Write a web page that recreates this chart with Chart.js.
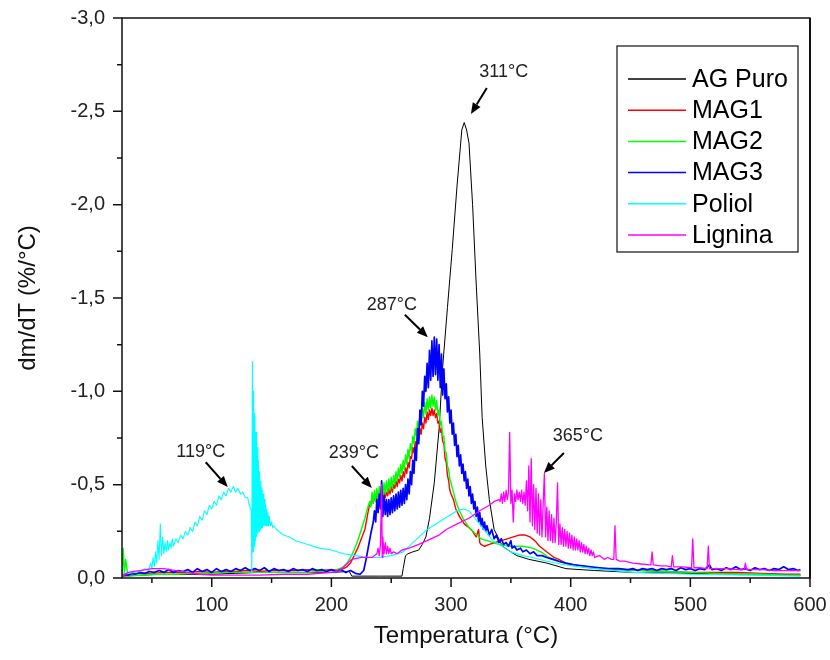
<!DOCTYPE html>
<html><head><meta charset="utf-8">
<script src="https://cdn.jsdelivr.net/npm/chart.js@4.4.0/dist/chart.umd.min.js"></script>
<style>html,body{margin:0;padding:0;background:#fff}#wrap{width:830px;height:660px;position:relative}</style>
</head><body><div id="wrap"><canvas id="c" width="830" height="660"></canvas></div>
<script>
// ---------- DATA (temperature in °C, dm/dT in %/°C) ----------
const seriesLabels = ['AG Puro','MAG1','MAG2','MAG3','Poliol','Lignina'];
const xMajorTicks = [100,200,300,400,500,600];
const xMinorTicks = [50,150,250,350,450,550];
const yMajorTicks = [-3,-2.5,-2,-1.5,-1,-0.5,0];
const yMinorTicks = [-2.75,-2.25,-1.75,-1.25,-0.75,-0.25];

const agPuroTemp = [25,40,60,80,100,120,140,160,180,200,215,217,240,259,260,262,264,268,273,276,279,282,286,290,293,297,301,305,309,311,313,315,318,321,324,326,329,332,336,343,350,355,365,380,396,420,452,500,550,592];
const agPuroDm = [-0.01,-0.015,-0.02,-0.02,-0.02,-0.025,-0.03,-0.03,-0.03,-0.03,-0.035,-0.01,-0.01,-0.01,-0.05,-0.12,-0.13,-0.14,-0.15,-0.18,-0.22,-0.32,-0.51,-0.8,-1.13,-1.45,-1.76,-2.1,-2.4,-2.44,-2.4,-2.33,-2.0,-1.58,-1.2,-0.86,-0.6,-0.42,-0.26,-0.17,-0.14,-0.12,-0.1,-0.08,-0.05,-0.04,-0.03,-0.025,-0.02,-0.015];

const mag1Temp = [25,30,40,50,60,70,80,90,100,110,120,130,140,150,160,170,180,190,200,205,210,213,216,219,222,225,228,230,232,
233,234,235,236,237,238,239,240,241,242,243,244,245,246,247,248,249,250,251,252,253,254,255,256,257,258,259,260,261,262,263,264,265,266,267,268,269,270,271,272,273,274,275,276,277,278,279,280,281,282,283,284,285,286,287,288,289,290,291,292,293,294,295,296,297,298,299,300,
302,304,307,311,315,318,321,323,324,325,328,332,337,342,347,352,357,362,366,370,374,378,382,386,390,396,403,410,424,440,460,480,500,520,540,560,580,592];
const mag1Dm = [-0.01,-0.02,-0.025,-0.025,-0.03,-0.03,-0.03,-0.035,-0.03,-0.035,-0.035,-0.04,-0.035,-0.04,-0.04,-0.04,-0.045,-0.04,-0.045,-0.045,-0.05,-0.06,-0.08,-0.12,-0.16,-0.21,-0.26,-0.33,-0.4,
-0.39,-0.44,-0.40,-0.45,-0.41,-0.45,-0.42,-0.46,-0.42,-0.46,-0.42,-0.46,-0.43,-0.46,-0.44,-0.48,-0.45,-0.49,-0.46,-0.50,-0.48,-0.52,-0.49,-0.53,-0.51,-0.55,-0.52,-0.57,-0.54,-0.59,-0.56,-0.62,-0.59,-0.65,-0.64,-0.70,-0.67,-0.73,-0.70,-0.76,-0.74,-0.80,-0.77,-0.83,-0.80,-0.86,-0.83,-0.89,-0.85,-0.90,-0.87,-0.91,-0.87,-0.90,-0.86,-0.88,-0.83,-0.84,-0.78,-0.80,-0.73,-0.72,-0.64,-0.62,-0.55,-0.52,-0.47,-0.45,
-0.42,-0.37,-0.33,-0.29,-0.27,-0.25,-0.22,-0.26,-0.19,-0.18,-0.17,-0.18,-0.19,-0.2,-0.21,-0.22,-0.23,-0.23,-0.22,-0.2,-0.17,-0.15,-0.13,-0.11,-0.1,-0.08,-0.07,-0.06,-0.05,-0.045,-0.04,-0.035,-0.03,-0.03,-0.03,-0.025,-0.02,-0.02];

const mag2Temp = [25,26,27,28,30,40,50,60,70,80,90,100,110,120,130,140,150,160,170,180,190,200,205,210,213,216,219,222,225,228,230,232,
233,234,235,236,237,238,239,240,241,242,243,244,245,246,247,248,249,250,251,252,253,254,255,256,257,258,259,260,261,262,263,264,265,266,267,268,269,270,271,272,273,274,275,276,277,278,279,280,281,282,283,284,285,286,287,288,289,290,291,292,293,294,295,296,297,298,299,300,
302,304,307,310,315,320,325,330,340,350,360,368,375,382,390,400,412,424,440,460,480,500,520,540,560,580,592];
const mag2Dm = [-0.01,-0.16,-0.02,-0.1,-0.01,-0.015,-0.02,-0.02,-0.02,-0.025,-0.025,-0.025,-0.03,-0.03,-0.03,-0.03,-0.03,-0.03,-0.03,-0.03,-0.035,-0.04,-0.045,-0.06,-0.08,-0.11,-0.15,-0.2,-0.26,-0.32,-0.37,-0.41,
-0.38,-0.46,-0.40,-0.47,-0.41,-0.48,-0.42,-0.49,-0.43,-0.50,-0.44,-0.51,-0.45,-0.52,-0.46,-0.53,-0.47,-0.54,-0.48,-0.55,-0.50,-0.57,-0.52,-0.59,-0.54,-0.61,-0.56,-0.63,-0.58,-0.66,-0.61,-0.69,-0.64,-0.72,-0.68,-0.76,-0.72,-0.80,-0.76,-0.84,-0.80,-0.88,-0.83,-0.91,-0.86,-0.94,-0.88,-0.96,-0.90,-0.97,-0.91,-0.98,-0.92,-0.97,-0.90,-0.95,-0.87,-0.90,-0.82,-0.84,-0.76,-0.76,-0.68,-0.67,-0.60,-0.58,-0.53,-0.51,
-0.46,-0.41,-0.36,-0.32,-0.27,-0.24,-0.21,-0.2,-0.18,-0.17,-0.17,-0.16,-0.14,-0.11,-0.09,-0.07,-0.06,-0.05,-0.045,-0.04,-0.035,-0.03,-0.025,-0.02,-0.02,-0.015,-0.015];

const mag3Temp = [25,27,30,33,36,40,44,48,52,56,60,64,68,72,76,80,84,88,92,96,100,104,108,112,116,120,124,128,132,136,140,144,148,152,156,160,164,168,172,176,180,184,188,192,196,200,204,208,212,216,220,224,227,229,231,233,235,
236,237,238,239,240,241,242,243,244,245,246,247,248,249,250,251,252,253,254,255,256,257,258,259,260,261,262,263,264,265,266,267,268,269,270,271,272,273,274,275,276,277,278,279,280,281,282,283,284,285,286,287,288,289,290,291,292,293,294,295,296,297,298,299,300,301,302,303,304,305,306,307,308,309,310,311,312,313,314,315,316,317,318,319,320,321,322,323,324,325,326,327,328,329,330,332,334,336,338,340,
342,344,346,348,350,351,353,355,358,360,363,366,369,372,376,380,385,390,396,403,410,417,424,432,440,448,452,456,460,464,468,472,476,480,484,488,492,496,500,504,508,512,516,518,522,526,530,534,538,542,546,550,554,558,562,566,570,574,578,582,586,590,592];
const mag3Dm = [-0.01,-0.02,-0.015,-0.025,-0.02,-0.03,-0.025,-0.035,-0.03,-0.04,-0.03,-0.045,-0.03,-0.04,-0.035,-0.045,-0.03,-0.05,-0.035,-0.045,-0.03,-0.05,-0.035,-0.045,-0.035,-0.05,-0.04,-0.055,-0.04,-0.05,-0.04,-0.055,-0.035,-0.05,-0.04,-0.045,-0.035,-0.05,-0.04,-0.045,-0.035,-0.05,-0.04,-0.045,-0.035,-0.045,-0.035,-0.045,-0.03,-0.04,-0.025,-0.02,-0.04,-0.1,-0.17,-0.24,-0.3,
-0.36,-0.30,-0.42,-0.35,-0.45,-0.37,-0.52,-0.33,-0.44,-0.34,-0.42,-0.33,-0.42,-0.34,-0.43,-0.35,-0.44,-0.36,-0.45,-0.37,-0.46,-0.38,-0.47,-0.39,-0.48,-0.40,-0.50,-0.42,-0.53,-0.45,-0.57,-0.50,-0.63,-0.56,-0.70,-0.63,-0.80,-0.72,-0.90,-0.82,-1.00,-0.92,-1.08,-1.00,-1.15,-1.02,-1.22,-1.06,-1.27,-1.08,-1.29,-1.09,-1.28,-1.06,-1.25,-1.02,-1.20,-0.98,-1.12,-0.96,-1.04,-0.89,-0.97,-0.83,-0.90,-0.77,-0.83,-0.71,-0.77,-0.65,-0.71,-0.60,-0.66,-0.56,-0.61,-0.52,-0.57,-0.48,-0.53,-0.44,-0.49,-0.40,-0.45,-0.37,-0.41,-0.33,-0.38,-0.30,-0.35,-0.28,-0.32,-0.26,-0.30,-0.25,-0.28,-0.23,-0.26,-0.21,-0.23,-0.19,
-0.21,-0.18,-0.19,-0.17,-0.2,-0.16,-0.17,-0.15,-0.16,-0.14,-0.15,-0.13,-0.14,-0.12,-0.12,-0.11,-0.1,-0.09,-0.08,-0.07,-0.065,-0.06,-0.055,-0.05,-0.05,-0.045,-0.05,-0.04,-0.05,-0.045,-0.05,-0.04,-0.05,-0.045,-0.05,-0.04,-0.055,-0.045,-0.05,-0.04,-0.05,-0.045,-0.07,-0.045,-0.05,-0.04,-0.055,-0.045,-0.06,-0.045,-0.05,-0.04,-0.055,-0.045,-0.05,-0.04,-0.05,-0.045,-0.06,-0.045,-0.05,-0.04,-0.045];

const poliolTemp = [25,30,35,40,44,47,49,50,51,52,53,54,55,56,57,58,59,60,61,62,63,64,65,66,67,68,70,72,74,76,78,80,82,84,86,88,90,92,94,96,98,100,102,104,106,108,110,112,114,116,118,120,122,124,126,128,130,131,132,133,133.5,
134,134.5,135,135.5,136,136.5,137,137.5,138,138.5,139,139.5,140,140.5,141,141.5,142,142.5,143,143.5,144,144.5,145,145.5,146,146.5,147,147.5,148,
149,150,151,152,154,156,158,160,165,170,175,180,190,200,210,220,230,240,250,260,270,280,290,300,305,310,315,320,325,330,335,340,350,360,368,380,396,420,452,500,550,592];
const poliolDm = [-0.02,-0.025,-0.03,-0.035,-0.05,-0.04,-0.08,-0.05,-0.11,-0.06,-0.14,-0.08,-0.2,-0.1,-0.29,-0.12,-0.22,-0.13,-0.19,-0.14,-0.2,-0.15,-0.19,-0.16,-0.21,-0.17,-0.21,-0.19,-0.23,-0.21,-0.25,-0.23,-0.27,-0.25,-0.3,-0.28,-0.33,-0.31,-0.36,-0.34,-0.39,-0.37,-0.41,-0.39,-0.44,-0.42,-0.46,-0.44,-0.48,-0.46,-0.49,-0.46,-0.48,-0.45,-0.46,-0.43,-0.43,-0.4,-0.38,-0.36,-0.03,
-1.16,-0.14,-1.0,-0.17,-0.88,-0.2,-0.78,-0.22,-0.7,-0.24,-0.63,-0.25,-0.57,-0.26,-0.52,-0.27,-0.48,-0.27,-0.45,-0.28,-0.42,-0.28,-0.39,-0.28,-0.37,-0.28,-0.35,-0.28,-0.33,
-0.28,-0.3,-0.27,-0.28,-0.26,-0.25,-0.24,-0.23,-0.22,-0.2,-0.19,-0.18,-0.16,-0.15,-0.13,-0.12,-0.11,-0.11,-0.12,-0.14,-0.2,-0.26,-0.3,-0.34,-0.36,-0.37,-0.36,-0.32,-0.28,-0.24,-0.2,-0.18,-0.14,-0.12,-0.11,-0.09,-0.07,-0.05,-0.03,-0.02,-0.015,-0.01];

const ligninaTemp = [25,30,35,40,50,60,70,80,90,100,120,140,160,180,200,207,212,217,225,234,238,239,240,241,242,242.5,243,244,245,246,247,248,249,250,252,255,259,265,273,280,290,296,305,315,324,332,336,340,
341,342,343,344,345,346,347,348,349,350,351,352,353,354,355,356,357,358,359,360,361,362,363,364,365,366,367,368,369,370,371,372,373,374,375,376,377,378,379,380,381,382,383,384,385,386,387,388,389,390,391,392,393,394,395,396,397,398,399,400,401,402,403,404,405,406,407,408,409,410,411,412,413,414,415,416,417,418,419,420,
424,428,431,434,436,437,438,441,445,452,459,466,467,468,469,475,480,484,485,486,490,494,500,501,502,503,508,514,515,516,520,530,540,545,546,547,555,560,570,580,592];
const ligninaDm = [-0.01,-0.03,-0.035,-0.04,-0.05,-0.05,-0.04,-0.03,-0.02,-0.015,-0.015,-0.015,-0.02,-0.02,-0.03,-0.04,-0.07,-0.1,-0.11,-0.11,-0.13,-0.16,-0.12,-0.18,-0.5,-0.11,-0.22,-0.13,-0.19,-0.13,-0.17,-0.13,-0.16,-0.13,-0.14,-0.13,-0.15,-0.16,-0.18,-0.2,-0.23,-0.26,-0.29,-0.32,-0.36,-0.39,-0.41,-0.42,
-0.41,-0.45,-0.40,-0.46,-0.41,-0.47,-0.42,-0.46,-0.78,-0.40,-0.47,-0.30,-0.45,-0.41,-0.47,-0.42,-0.46,-0.41,-0.47,-0.40,-0.46,-0.39,-0.52,-0.36,-0.60,-0.30,-0.64,-0.28,-0.50,-0.26,-0.48,-0.24,-0.45,-0.23,-0.42,-0.22,-0.4,-0.56,-0.22,-0.38,-0.2,-0.36,-0.2,-0.34,-0.19,-0.32,-0.19,-0.3,-0.51,-0.18,-0.29,-0.18,-0.27,-0.17,-0.26,-0.17,-0.25,-0.16,-0.24,-0.16,-0.23,-0.15,-0.22,-0.15,-0.21,-0.15,-0.2,-0.14,-0.19,-0.14,-0.18,-0.13,-0.17,-0.13,-0.16,-0.12,-0.15,-0.12,-0.14,-0.11,
-0.12,-0.1,-0.11,-0.1,-0.1,-0.28,-0.1,-0.09,-0.09,-0.08,-0.075,-0.07,-0.07,-0.14,-0.07,-0.065,-0.065,-0.06,-0.12,-0.06,-0.06,-0.06,-0.055,-0.055,-0.21,-0.055,-0.055,-0.05,-0.17,-0.05,-0.05,-0.05,-0.045,-0.045,-0.08,-0.045,-0.045,-0.045,-0.04,-0.04,-0.04];

// annotations: text and arrow in data coordinates
const annotations = [
  {text:'311°C', tx:344.1, ty:-2.71, fromX:329.9, fromY:-2.625, toX:316.6, toY:-2.486},
  {text:'287°C', tx:250.5, ty:-1.46, fromX:261.4, fromY:-1.41, toX:280.6, toY:-1.29},
  {text:'119°C', tx:90.8, ty:-0.675, fromX:95.0, fromY:-0.62, toX:113.4, toY:-0.487},
  {text:'239°C', tx:218.7, ty:-0.67, fromX:217.1, fromY:-0.6, toX:233.8, toY:-0.482},
  {text:'365°C', tx:406.0, ty:-0.76, fromX:394.3, fromY:-0.67, toX:377.6, toY:-0.562}
];

// ---------- CHART ----------
const FONT = "'Liberation Sans', Arial, Helvetica, sans-serif";
Chart.defaults.font.family = FONT;
const colors = ['#000000','#ff0000','#00ff00','#0000ff','#00ffff','#ff00ff'];
const widths = [1, 1.4, 1.4, 1.7, 1.1, 1.3];
const temps = [agPuroTemp, mag1Temp, mag2Temp, mag3Temp, poliolTemp, ligninaTemp];
const vals = [agPuroDm, mag1Dm, mag2Dm, mag3Dm, poliolDm, ligninaDm];

const datasets = seriesLabels.map((lab,i)=>({
  label: lab,
  data: temps[i].map((t,k)=>({x:t, y:vals[i][k]})),
  borderColor: colors[i],
  backgroundColor: colors[i],
  borderWidth: widths[i],
  pointRadius: 0,
  tension: 0,
  fill: false,
  order: seriesLabels.length - 1 - i
}));

const decor = {
  id:'decor',
  afterDatasetsDraw(chart){
    const ctx = chart.ctx, ca = chart.chartArea;
    const xs = chart.scales.x, ys = chart.scales.y;
    ctx.save();
    // frame
    ctx.strokeStyle = '#111'; ctx.lineWidth = 1.5;
    ctx.strokeRect(ca.left, ca.top, ca.right-ca.left, ca.bottom-ca.top);
    ctx.lineWidth = 2;
    ctx.beginPath(); ctx.moveTo(ca.right, ca.top); ctx.lineTo(ca.right, ca.bottom); ctx.stroke();
    // ticks
    ctx.lineWidth = 1.5;
    ctx.beginPath();
    xMajorTicks.forEach(v=>{const p=xs.getPixelForValue(v); ctx.moveTo(p,ca.bottom); ctx.lineTo(p,ca.bottom+9);});
    xMinorTicks.forEach(v=>{const p=xs.getPixelForValue(v); ctx.moveTo(p,ca.bottom); ctx.lineTo(p,ca.bottom+5);});
    yMajorTicks.forEach(v=>{const p=ys.getPixelForValue(v); ctx.moveTo(ca.left-9,p); ctx.lineTo(ca.left,p);});
    yMinorTicks.forEach(v=>{const p=ys.getPixelForValue(v); ctx.moveTo(ca.left-5,p); ctx.lineTo(ca.left,p);});
    ctx.stroke();

    // annotations
    ctx.strokeStyle = '#000';
    ctx.font = '18px ' + FONT; ctx.textAlign = 'center'; ctx.textBaseline = 'middle';
    annotations.forEach(a=>{
      ctx.fillStyle = '#222';
      ctx.fillText(a.text, xs.getPixelForValue(a.tx), ys.getPixelForValue(a.ty));
      const x1 = xs.getPixelForValue(a.fromX), y1 = ys.getPixelForValue(a.fromY);
      const x2 = xs.getPixelForValue(a.toX), y2 = ys.getPixelForValue(a.toY);
      const ang = Math.atan2(y2-y1, x2-x1), hl = 11, hw = 4.5;
      const bx = x2 - hl*Math.cos(ang), by = y2 - hl*Math.sin(ang);
      ctx.lineWidth = 2;
      ctx.beginPath(); ctx.moveTo(x1,y1); ctx.lineTo(bx,by); ctx.stroke();
      ctx.fillStyle = '#000';
      ctx.beginPath();
      ctx.moveTo(x2,y2);
      ctx.lineTo(bx + hw*Math.sin(ang), by - hw*Math.cos(ang));
      ctx.lineTo(bx - hw*Math.sin(ang), by + hw*Math.cos(ang));
      ctx.closePath(); ctx.fill();
    });

    // legend box
    const lx = 617, ly = 46, lw = 181, lh = 206;
    ctx.fillStyle = '#fff'; ctx.fillRect(lx, ly, lw, lh);
    ctx.strokeStyle = '#111'; ctx.lineWidth = 1.2; ctx.strokeRect(lx, ly, lw, lh);
    ctx.font = '25px ' + FONT; ctx.textAlign = 'left'; ctx.textBaseline = 'middle';
    seriesLabels.forEach((lab,i)=>{
      const yy = 79 + i*31.2;
      ctx.strokeStyle = colors[i]; ctx.lineWidth = 1.5;
      ctx.beginPath(); ctx.moveTo(628, yy); ctx.lineTo(686, yy); ctx.stroke();
      ctx.fillStyle = '#000';
      ctx.fillText(lab, 692, yy+1);
    });
    ctx.restore();
  }
};

new Chart(document.getElementById('c'), {
  type:'line',
  data:{datasets},
  options:{
    responsive:false, animation:false, devicePixelRatio:1,
    layout:{padding:{top:18,right:20,left:0,bottom:0}},
    plugins:{legend:{display:false}, tooltip:{enabled:false}},
    elements:{line:{borderJoinStyle:'round'}},
    scales:{
      x:{type:'linear', min:25, max:600,
        afterBuildTicks:s=>{s.ticks = xMajorTicks.map(v=>({value:v}));},
        afterFit:s=>{s.height = 82; s.paddingLeft = 0; s.paddingRight = 0; s.paddingTop = 0; s.paddingBottom = 0;},
        grid:{display:false, drawTicks:false}, border:{display:false},
        ticks:{padding:15, color:'#222', font:{size:20}, maxRotation:0, autoSkip:false},
        title:{display:true, text:'Temperatura (°C)', color:'#111', font:{size:24}, padding:{top:0,bottom:9}}
      },
      y:{type:'linear', min:-3, max:0, reverse:true,
        afterBuildTicks:s=>{s.ticks = yMajorTicks.map(v=>({value:v}));},
        afterFit:s=>{s.width = 122; s.paddingLeft = 0; s.paddingRight = 0; s.paddingTop = 0; s.paddingBottom = 0;},
        grid:{display:false, drawTicks:false}, border:{display:false},
        ticks:{padding:17, color:'#222', font:{size:20}, autoSkip:false,
          callback:v=>(Math.abs(v)<1e-9?0:v).toFixed(1).replace('.',',')},
        title:{display:true, text:'dm/dT (%/°C)', color:'#111', font:{size:24}, padding:{top:14,bottom:0}}
      }
    }
  },
  plugins:[decor]
});
</script></body></html>
